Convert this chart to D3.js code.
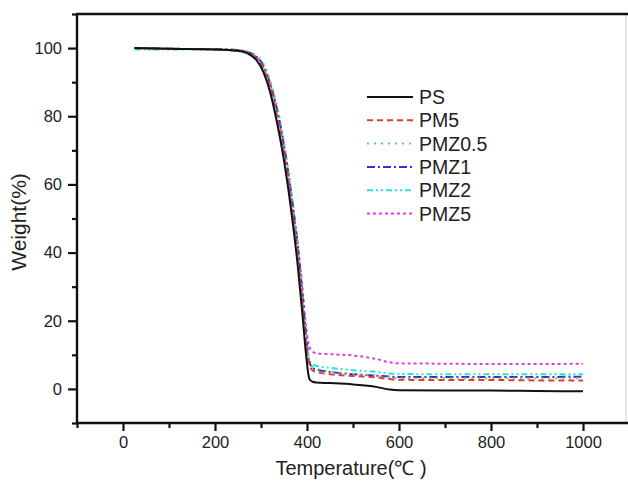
<!DOCTYPE html>
<html lang="en">
<head>
    <meta charset="UTF-8">
    <script type="text/javascript" src="https://d3js.org/d3.v7.min.js"></script>
    <title>TGA curves</title>
    <style>
        body { margin: 0; background: #fff; }
        text { font-family: "Liberation Sans", Arial, sans-serif; fill: #222; }
    </style>
</head>
<body>
<div id="Area"></div>
<script>
    // temperatures shared by all curves (℃)
    const temps = [25, 100, 200, 250, 270, 290, 305, 320, 335, 350, 365, 380, 390, 398, 405, 412, 420, 450, 500, 550, 580, 600, 700, 800, 900, 1000];

    const psW    = [100, 99.8, 99.6, 99.2, 98.5, 96.5, 93, 87, 78, 67, 53, 36, 22, 10, 3, 2.1, 1.9, 1.7, 1.3, 0.6, -0.2, -0.4, -0.5, -0.5, -0.6, -0.7];
    const pm5W   = [100, 99.8, 99.6, 99.3, 98.7, 97, 94, 88.5, 80, 69, 55, 39, 25, 13, 7, 5.5, 5, 4.3, 3.8, 3.4, 2.9, 2.7, 2.6, 2.6, 2.5, 2.5];
    const pmz05W = [100, 99.8, 99.7, 99.4, 99, 97.8, 95.5, 90.5, 83, 72.5, 59, 42, 28, 15, 8, 6.5, 6, 5.2, 4.4, 3.9, 3.4, 3.2, 3.1, 3.1, 3.1, 3.1];
    const pmz1W  = [100, 99.8, 99.7, 99.4, 98.9, 97.5, 95, 89.5, 82, 71.5, 58, 42, 28, 16, 8, 6.2, 5.7, 5, 4.3, 3.9, 3.6, 3.5, 3.5, 3.5, 3.5, 3.6];
    const pmz2W  = [99.6, 99.6, 99.5, 99.1, 98.4, 96.5, 93.5, 88, 79.5, 69, 55, 39, 26, 14, 8.5, 7.2, 6.8, 6.2, 5.5, 5, 4.5, 4.4, 4.3, 4.3, 4.3, 4.3];
    const pmz5W  = [100, 99.8, 99.6, 99.3, 98.8, 97.3, 94.8, 89.5, 81.5, 71, 57.5, 42, 30, 18, 12.5, 11, 10.5, 10.2, 9.8, 8.8, 7.8, 7.5, 7.4, 7.3, 7.3, 7.4];

    const names = ["PS", "PM5", "PMZ0.5", "PMZ1", "PMZ2", "PMZ5"];
    const weights = [psW, pm5W, pmz05W, pmz1W, pmz2W, pmz5W];
    const colors = ["#111111", "#e23a3a", "#5fd35f", "#3a2fc8", "#2fdede", "#e03ae0"];
    const dashes = ["none", "6,4", "2,5", "8,3,2,3", "6,3,2,3,2,3", "3,3"];

    const xTicks = [0, 200, 400, 600, 800, 1000];
    const xMinorTicks = [-100, 100, 300, 500, 700, 900];
    const yTicks = [0, 20, 40, 60, 80, 100];
    const yMinorTicks = [-10, 10, 30, 50, 70, 90, 110];

    const W = 628, H = 481;
    const pLeft = 77, pRight = 627, pTop = 14, pBottom = 423;

    const svg = d3.select("#Area").append("svg")
        .attr("width", W).attr("height", H);

    const x = d3.scaleLinear().domain([-100, 1100]).range([pLeft, pRight + 2]);
    const y = d3.scaleLinear().domain([-10, 110]).range([pBottom, pTop]);

    // faint right edge of the frame
    svg.append("line").attr("x1", pRight - 1).attr("x2", pRight - 1).attr("y1", pTop).attr("y2", pBottom)
        .attr("stroke", "#ccc").attr("stroke-width", 1);

    // x axis
    const xAxis = svg.append("g").attr("transform", "translate(0," + pBottom + ")")
        .call(d3.axisBottom(x).tickValues(xTicks).tickSize(8).tickSizeOuter(0)
            .tickPadding(5).tickFormat(d3.format("d")));
    const xMinor = svg.append("g").attr("transform", "translate(0," + pBottom + ")")
        .call(d3.axisBottom(x).tickValues(xMinorTicks).tickSize(5).tickSizeOuter(0).tickFormat(""));

    // y axis
    const yAxis = svg.append("g").attr("transform", "translate(" + pLeft + ",0)")
        .call(d3.axisLeft(y).tickValues(yTicks).tickSize(9).tickSizeOuter(0).tickPadding(6));
    const yMinor = svg.append("g").attr("transform", "translate(" + pLeft + ",0)")
        .call(d3.axisLeft(y).tickValues(yMinorTicks).tickSize(5).tickSizeOuter(0).tickFormat(""));

    [xAxis, xMinor, yAxis, yMinor].forEach(g => {
        g.select(".domain").remove();
        g.selectAll(".tick line").attr("stroke", "#111").attr("stroke-width", 2.2);
        g.selectAll(".tick text").style("font-size", "16.5px")
            .style("font-family", "'Liberation Sans', Arial, sans-serif").attr("fill", "#222");
    });

    // frame lines (left, bottom, top)
    const frame = [
        [pLeft, pTop - 1, pLeft, pBottom + 1],
        [pLeft - 1, pBottom, W, pBottom],
        [pLeft - 1, pTop, W, pTop]
    ];
    frame.forEach(f => {
        svg.append("line").attr("x1", f[0]).attr("y1", f[1]).attr("x2", f[2]).attr("y2", f[3])
            .attr("stroke", "#111").attr("stroke-width", 2.4);
    });

    // axis titles
    svg.append("text").attr("x", 351).attr("y", 475).attr("text-anchor", "middle")
        .style("font-size", "20px").text("Temperature(℃ )");
    svg.append("text").attr("transform", "translate(26,222) rotate(-90)")
        .attr("text-anchor", "middle").style("font-size", "21px").text("Weight(%)");

    // curves
    const line = d3.line()
        .x(d => x(d[0]))
        .y(d => y(d[1]))
        .curve(d3.curveMonotoneX);

    // draw PS last so it sits on top like in the reference
    const order = [5, 4, 3, 2, 1, 0];
    order.forEach(i => {
        svg.append("path")
            .datum(temps.map((t, j) => [t, weights[i][j]]))
            .attr("fill", "none")
            .attr("stroke", colors[i])
            .attr("stroke-width", 2)
            .attr("stroke-dasharray", dashes[i])
            .attr("d", line);
    });

    // legend
    const leg = svg.append("g");
    names.forEach((n, i) => {
        const ly = 97 + i * 23.3;
        leg.append("line").attr("x1", 367).attr("x2", 413).attr("y1", ly).attr("y2", ly)
            .attr("stroke", colors[i]).attr("stroke-width", 2)
            .attr("stroke-dasharray", dashes[i]);
        leg.append("text").attr("x", 419).attr("y", ly + 7)
            .style("font-size", "19.5px").text(n);
    });
</script>
</body>
</html>
